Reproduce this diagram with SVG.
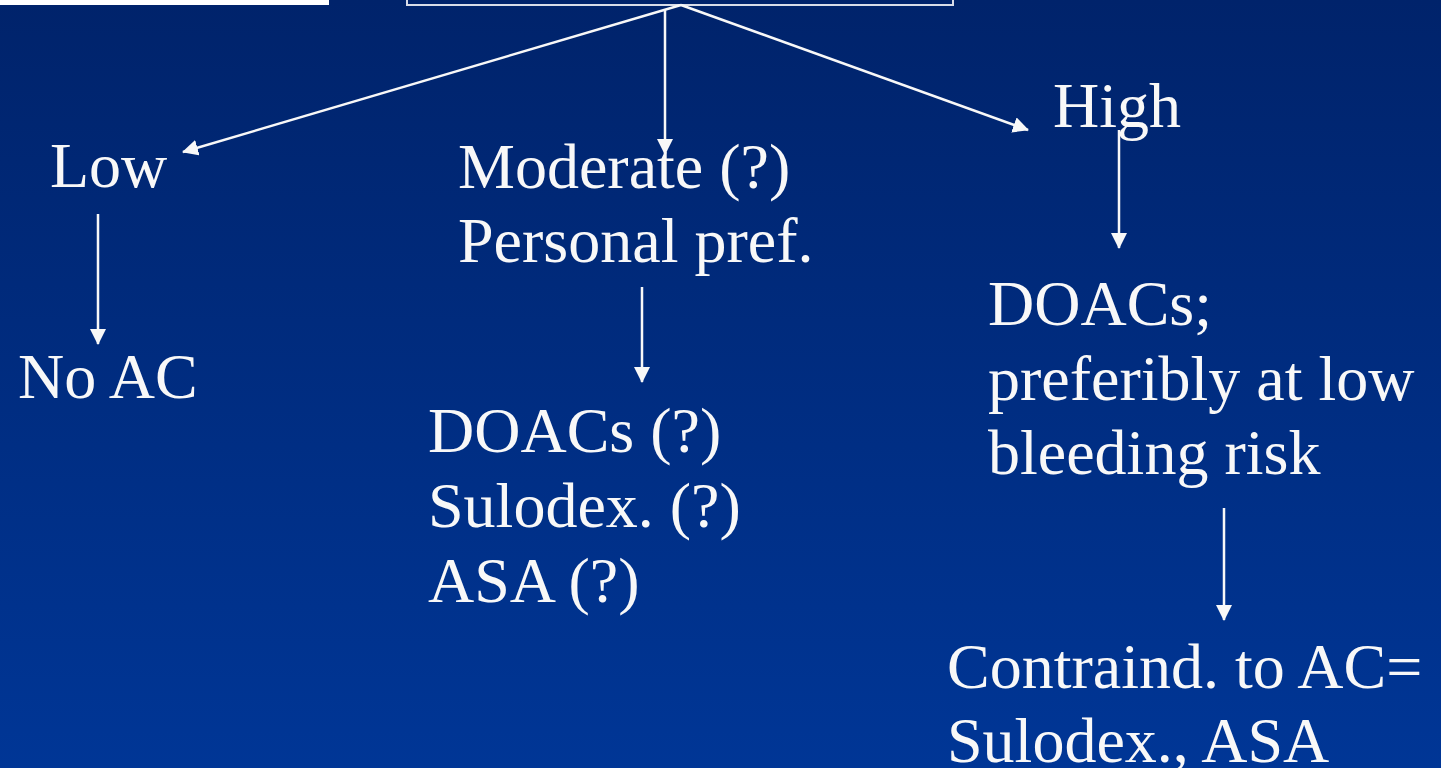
<svg xmlns="http://www.w3.org/2000/svg" width="1441" height="768" viewBox="0 0 1441 768">
<defs>
<linearGradient id="bg" x1="0" y1="0" x2="0" y2="1">
<stop offset="0" stop-color="#00236b"/>
<stop offset="1" stop-color="#003696"/>
</linearGradient>
<marker id="ah" markerWidth="10" markerHeight="10" refX="9" refY="5" orient="auto" markerUnits="userSpaceOnUse" viewBox="0 0 10 10">
<path d="M0,0 L10,5 L0,10 z" fill="#f8f8f8"/>
</marker>
<style>
.t{font-family:"Liberation Serif","Times New Roman",serif;font-size:64px;fill:#f8f8f8}
.c{stroke:#f8f8f8;stroke-width:2.5;fill:none;marker-end:url(#ah)}
</style>
<marker id="ah2" markerWidth="16" markerHeight="16" refX="15" refY="8" orient="auto" markerUnits="userSpaceOnUse" viewBox="0 0 16 16">
<path d="M0,0 L16,8 L0,16 z" fill="#f8f8f8"/>
</marker>
</defs>
<rect width="1441" height="768" fill="url(#bg)"/>
<rect id="topleft" x="0" y="0" width="329" height="5" fill="#ffffff"/>
<g id="root"><rect x="407" y="-10" width="546" height="15" fill="none" stroke="#d8dce8" stroke-width="2"/></g>
<g id="connectors" stroke="#f8f8f8" stroke-width="2.5" fill="none">
<line x1="681" y1="5" x2="183" y2="152" marker-end="url(#ah2)"/>
<line x1="665" y1="10" x2="665" y2="154" marker-end="url(#ah2)"/>
<line x1="681" y1="5" x2="1028" y2="130" marker-end="url(#ah2)"/>
<line x1="98" y1="214" x2="98" y2="344" marker-end="url(#ah2)"/>
<line x1="642" y1="287" x2="642" y2="382" marker-end="url(#ah2)"/>
<line x1="1119" y1="130" x2="1119" y2="248" marker-end="url(#ah2)"/>
<line x1="1224" y1="508" x2="1224" y2="620" marker-end="url(#ah2)"/>
</g>
<g id="low"><text class="t" x="50" y="187">Low</text></g>
<g id="noac"><text class="t" x="18" y="398">No AC</text></g>
<g id="moderate"><text class="t" x="458" y="188">Moderate (?)</text><text class="t" x="458" y="262">Personal pref.</text></g>
<g id="modtx"><text class="t" x="428" y="452">DOACs (?)</text><text class="t" x="428" y="527">Sulodex. (?)</text><text class="t" x="428" y="602">ASA (?)</text></g>
<g id="high"><text class="t" x="1053" y="127">High</text></g>
<g id="doacs"><text class="t" x="988" y="325">DOACs;</text><text class="t" x="988" y="400">preferibly at low</text><text class="t" x="988" y="474">bleeding risk</text></g>
<g id="contra"><text class="t" x="947" y="688">Contraind. to AC=</text><text class="t" x="947" y="762">Sulodex., ASA</text></g>
</svg>
